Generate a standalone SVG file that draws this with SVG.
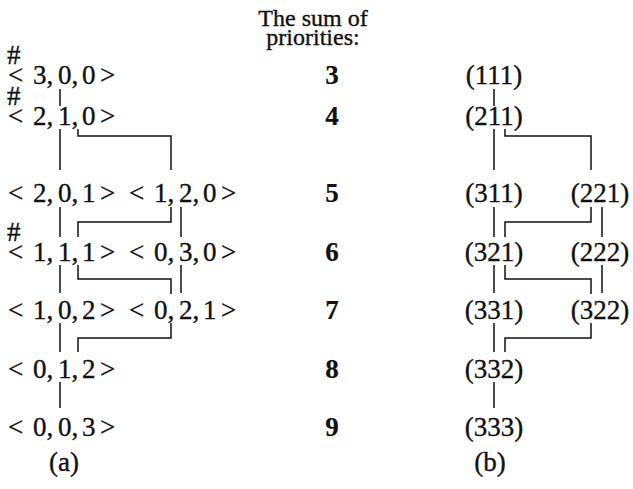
<svg xmlns="http://www.w3.org/2000/svg" width="633" height="489" viewBox="0 0 633 489">
<style>
text{font-family:"Liberation Serif","Times New Roman",serif;fill:#111;stroke:#111;stroke-width:0.35;}
.t{font-size:27px;}
.h{font-size:24px;text-anchor:middle;}
.p{font-size:27px;font-weight:bold;text-anchor:middle;stroke-width:0.2;}
.b{font-size:27px;text-anchor:middle;}
.s{font-size:27px;}
.c line,.c polyline{stroke:#111;stroke-width:1.5;fill:none;}
</style>
<rect width="633" height="489" fill="#fff"/>
<g id="header">
<text class="h" x="313" y="26">The sum of</text>
<text class="h" x="313" y="45">priorities:</text>
</g>
<g id="priorities">
<text class="p" x="332" y="84">3</text>
<text class="p" x="332" y="125">4</text>
<text class="p" x="332" y="202">5</text>
<text class="p" x="332" y="261">6</text>
<text class="p" x="332" y="319">7</text>
<text class="p" x="332" y="378">8</text>
<text class="p" x="332" y="436">9</text>
</g>
<g id="a300"><text class="s" x="7" y="64">#</text><text class="t" x="8 23 33 46.5 53 58 71.5 78 82 95.5 100" y="84">&lt; 3, 0, 0 &gt;</text></g>
<g id="a210"><text class="s" x="7" y="105">#</text><text class="t" x="8 23 33 46.5 53 58 71.5 78 82 95.5 100" y="125">&lt; 2, 1, 0 &gt;</text></g>
<g id="a201"><text class="t" x="8 23 33 46.5 53 58 71.5 78 82 95.5 100" y="202">&lt; 2, 0, 1 &gt;</text></g>
<g id="a120"><text class="t" x="129 144 154 167.5 174 179 192.5 199 203 216.5 221" y="202">&lt; 1, 2, 0 &gt;</text></g>
<g id="a111"><text class="s" x="7" y="241">#</text><text class="t" x="8 23 33 46.5 53 58 71.5 78 82 95.5 100" y="261">&lt; 1, 1, 1 &gt;</text></g>
<g id="a030"><text class="t" x="129 144 154 167.5 174 179 192.5 199 203 216.5 221" y="261">&lt; 0, 3, 0 &gt;</text></g>
<g id="a102"><text class="t" x="8 23 33 46.5 53 58 71.5 78 82 95.5 100" y="319">&lt; 1, 0, 2 &gt;</text></g>
<g id="a021"><text class="t" x="129 144 154 167.5 174 179 192.5 199 203 216.5 221" y="319">&lt; 0, 2, 1 &gt;</text></g>
<g id="a012"><text class="t" x="8 23 33 46.5 53 58 71.5 78 82 95.5 100" y="378">&lt; 0, 1, 2 &gt;</text></g>
<g id="a003"><text class="t" x="8 23 33 46.5 53 58 71.5 78 82 95.5 100" y="436">&lt; 0, 0, 3 &gt;</text></g>
<g id="b111"><text class="b" x="494" y="84">(111)</text></g>
<g id="b211"><text class="b" x="494" y="125">(211)</text></g>
<g id="b311"><text class="b" x="494" y="202">(311)</text></g>
<g id="b221"><text class="b" x="600" y="202">(221)</text></g>
<g id="b321"><text class="b" x="494" y="261">(321)</text></g>
<g id="b222"><text class="b" x="600" y="261">(222)</text></g>
<g id="b331"><text class="b" x="494" y="319">(331)</text></g>
<g id="b322"><text class="b" x="600" y="319">(322)</text></g>
<g id="b332"><text class="b" x="494" y="378">(332)</text></g>
<g id="b333"><text class="b" x="494" y="436">(333)</text></g>
<g id="captions">
<text class="b" x="64" y="471">(a)</text>
<text class="b" x="490" y="471">(b)</text>
</g>
<g id="connectors" class="c">
<line x1="60" y1="89" x2="60" y2="106"/>
<line x1="60" y1="129" x2="60" y2="170"/>
<polyline points="78,129 78,136 171,136 171,170"/>
<line x1="60" y1="207" x2="60" y2="237"/>
<polyline points="171,207 171,222 78,222 78,237"/>
<line x1="181" y1="207" x2="181" y2="237"/>
<line x1="60" y1="265" x2="60" y2="293"/>
<polyline points="78,265 78,279 171,279 171,294"/>
<line x1="181" y1="265" x2="181" y2="293"/>
<line x1="60" y1="323" x2="60" y2="352"/>
<polyline points="171,323 171,338 78,338 78,352"/>
<line x1="60" y1="382" x2="60" y2="408"/>
<line x1="494" y1="89" x2="494" y2="106"/>
<line x1="494" y1="129" x2="494" y2="170"/>
<polyline points="505,129 505,136 591,136 591,170"/>
<line x1="494" y1="207" x2="494" y2="237"/>
<polyline points="591,207 591,222 505,222 505,237"/>
<line x1="602" y1="207" x2="602" y2="237"/>
<line x1="494" y1="265" x2="494" y2="293"/>
<polyline points="505,265 505,279 591,279 591,294"/>
<line x1="602" y1="265" x2="602" y2="293"/>
<line x1="494" y1="323" x2="494" y2="352"/>
<polyline points="591,323 591,338 505,338 505,352"/>
<line x1="494" y1="382" x2="494" y2="408"/>
</g>
</svg>
